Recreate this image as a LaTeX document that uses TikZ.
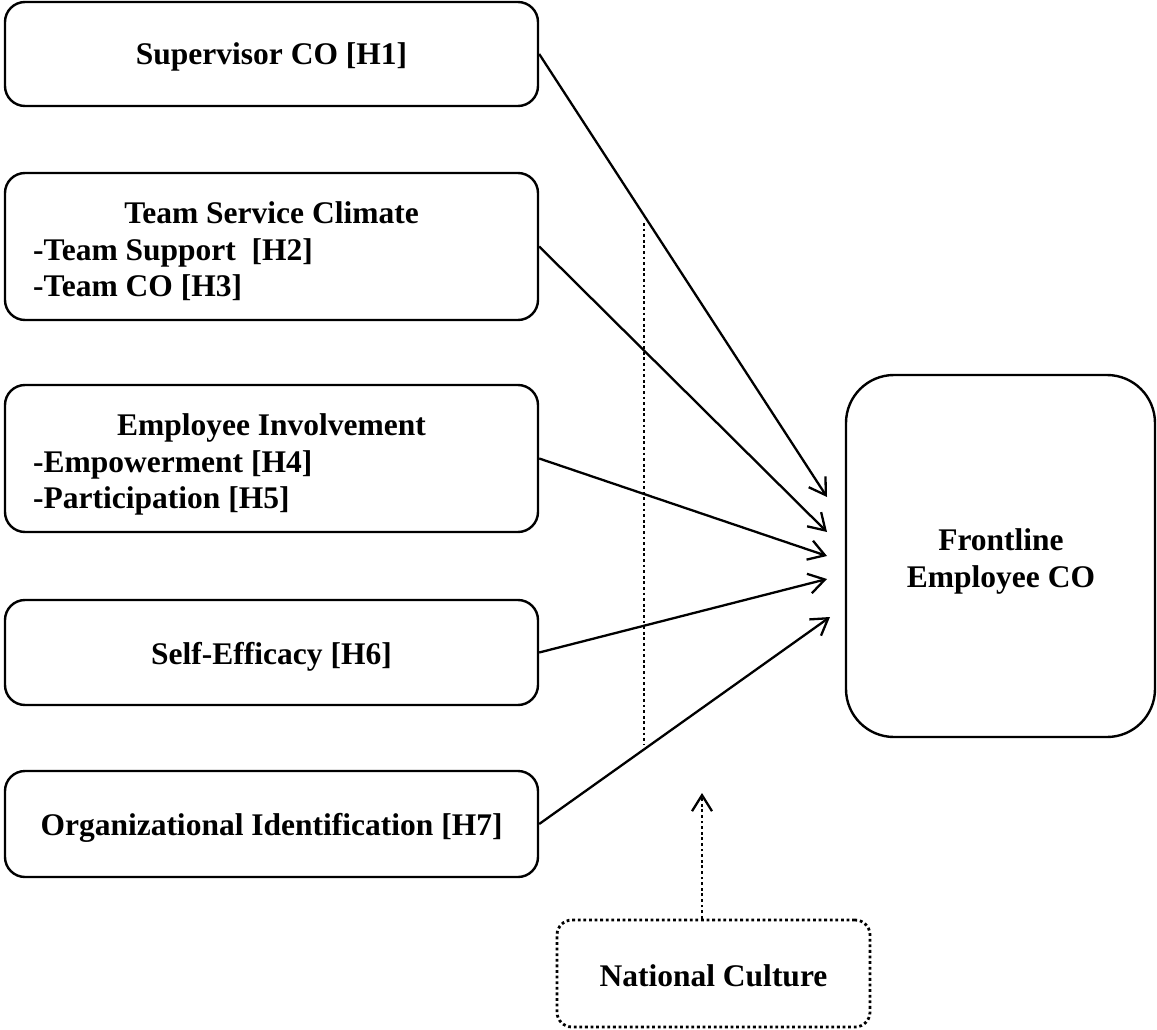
\documentclass[tikz,border=0pt]{standalone}
\usepackage{fontspec}
\setmainfont{Liberation Serif}
\usetikzlibrary{arrows.meta}

\begin{document}
\begin{tikzpicture}[x=1pt,y=-1pt,
  box/.style={draw, line width=2.4pt, rounded corners=20pt, inner sep=0pt},
  bigbox/.style={box, rounded corners=48pt},
  dotbox/.style={box, rounded corners=15pt, line width=2.8pt, dash pattern=on 2.8pt off 2.8pt},
  lbl/.style={font=\bfseries\fontsize{31.5}{36}\selectfont, inner sep=0pt, anchor=base},
  lblleft/.style={lbl, anchor=base west},
  tip/.style={-{Straight Barb[length=16pt,width=20pt,line width=2.3pt]}},
  conn/.style={tip, line width=2.3pt},
  dotline/.style={line width=2.8pt, dash pattern=on 2.8pt off 2.8pt},
]
\useasboundingbox (0,0) rectangle (1157,1030);

% predictor boxes
\node[box, minimum width=533pt, minimum height=104pt] (sup) at (271.5,54) {};
\node[lbl] (supT) at (271.5,65) {Supervisor CO [H1]};

\node[box, minimum width=533pt, minimum height=147pt] (team) at (271.5,246.5) {};
\node[lbl] (teamT) at (271.5,223) {Team Service Climate};
\node[lblleft] (teamA) at (33,260) {-Team Support\ \ [H2]};
\node[lblleft] (teamB) at (33,296) {-Team CO [H3]};

\node[box, minimum width=533pt, minimum height=147pt] (inv) at (271.5,458.5) {};
\node[lbl] (invT) at (271.5,435) {Employee Involvement};
\node[lblleft] (invA) at (33,472) {-Empowerment [H4]};
\node[lblleft] (invB) at (33,508) {-Participation [H5]};

\node[box, minimum width=533pt, minimum height=105pt] (self) at (271.5,652.5) {};
\node[lbl] (selfT) at (271.5,664) {Self-Efficacy [H6]};

\node[box, minimum width=533pt, minimum height=106pt] (org) at (271.5,824) {};
\node[lbl] (orgT) at (271.5,835) {Organizational Identification [H7]};

% outcome box
\node[bigbox, minimum width=309pt, minimum height=362pt] (fl) at (1000.5,556) {};
\node[lbl] (flA) at (1001,550) {Frontline};
\node[lbl] (flB) at (1001,587) {Employee CO};

% moderator box
\node[dotbox, minimum width=313pt, minimum height=107pt] (nat) at (713.5,973.5) {};
\node[lbl] (natT) at (713.5,986) {National Culture};

% arrow ends in front of the outcome box
\coordinate (t1) at (827,497);
\coordinate (t2) at (827,532);
\coordinate (t3) at (827,556);
\coordinate (t4) at (827,579);
\coordinate (t5) at (830,617);

\draw[conn] (sup.east)  -- (t1);
\draw[conn] (team.east) -- (t2);
\draw[conn] (inv.east)  -- (t3);
\draw[conn] (self.east) -- (t4);
\draw[conn] (org.east)  -- (t5);

% moderation line and arrow
\coordinate (v1) at (644,223);
\coordinate (v2) at (644,745);
\draw[dotline] (v1) -- (v2);

\coordinate (m1) at (702,793);
\draw[dotline, tip] (nat.north -| m1) -- (m1);
\end{tikzpicture}
\end{document}
